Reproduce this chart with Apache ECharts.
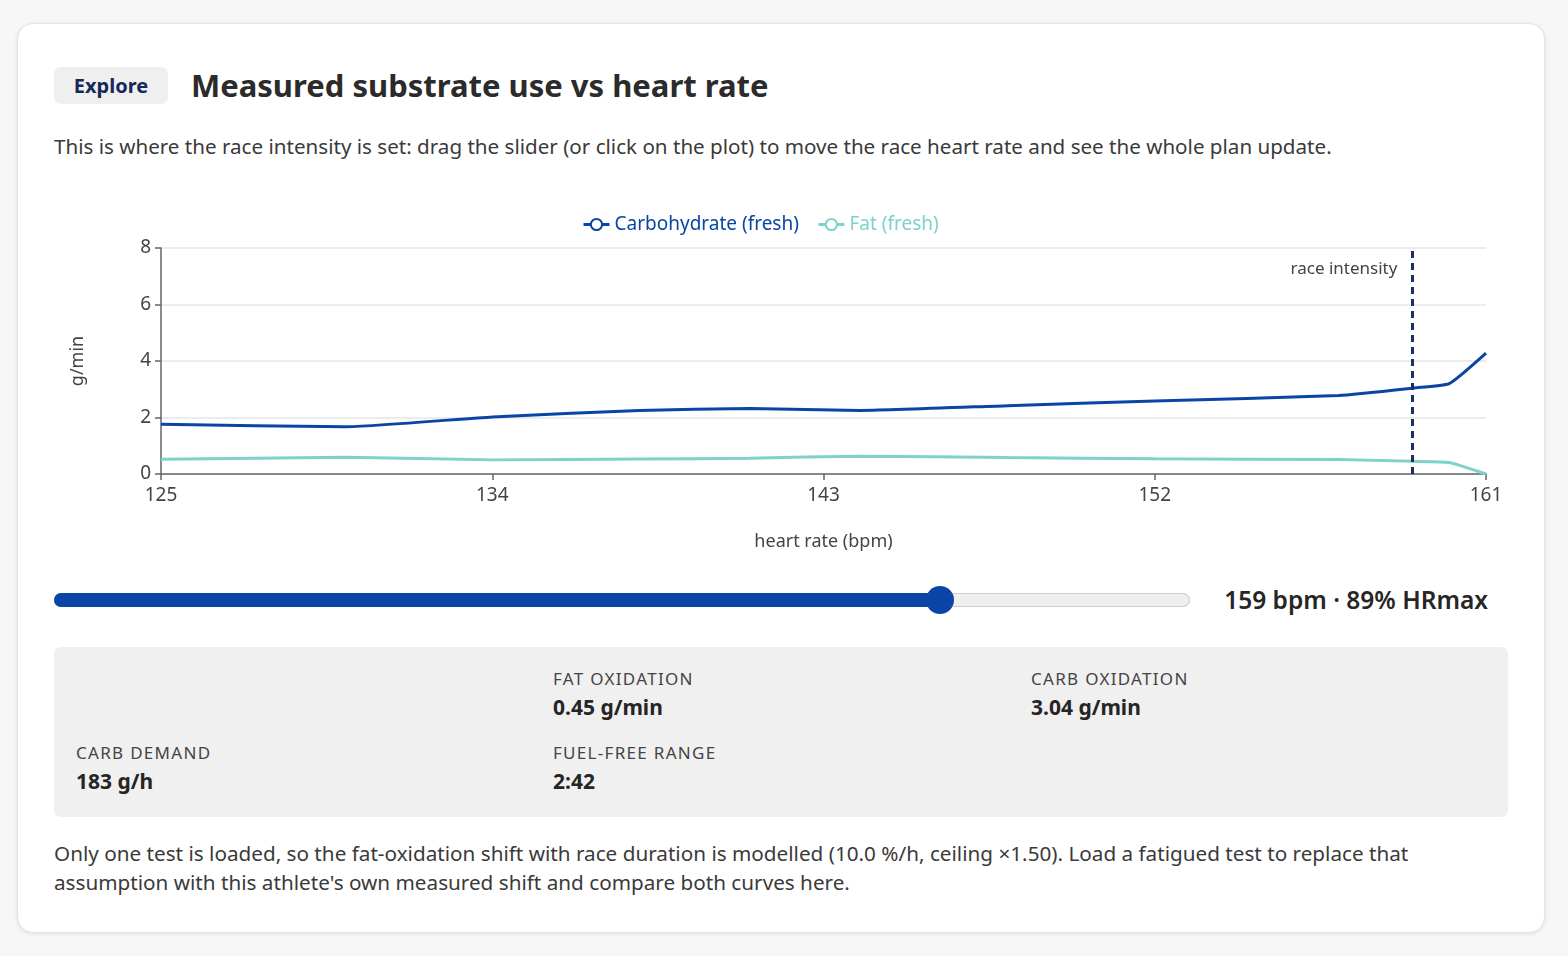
<!DOCTYPE html>
<html>
<head>
<meta charset="utf-8">
<script src="https://cdn.jsdelivr.net/npm/echarts@6/dist/echarts.min.js"></script>
<style>
  html, body { margin: 0; padding: 0; background: #f7f7f7; }
  body { width: 1568px; height: 956px; position: relative; font-family: "Noto Sans", Roboto, sans-serif; color: #333; }
  .card { position: absolute; left: 17px; top: 23px; width: 1526px; height: 908px; background: #fff;
          border: 1px solid #e4e4e4; border-radius: 16px; box-shadow: 0 1px 4px rgba(0,0,0,0.10); }
  .abs { position: absolute; }
  .badge { left: 36px; top: 43px; width: 114px; height: 37px; line-height: 37px; text-align: center;
           background: #efefef; border-radius: 7px; color: #16275a; font-weight: 700; font-size: 20px; }
  .title { left: 173px; top: 40px; height: 42px; line-height: 42px; font-size: 31px; font-weight: 700; color: #2b2b2b; }
  .sub { left: 36px; top: 108px; font-size: 20.6px; line-height: 28px; color: #3a3a3a; white-space: nowrap; }
  #chart { left: 36px; top: 171px; width: 1454px; height: 370px; }
  .track { left: 36px; top: 569px; width: 1136px; height: 14px; border-radius: 8px; background: #efefef;
           box-shadow: inset 0 0 0 1px #cfcfcf; }
  .fill { left: 0; top: 0; height: 14px; border-radius: 8px; background: #0a45a6; }
  .thumb { top: -7px; width: 28px; height: 28px; border-radius: 50%; background: #0a45a6; margin-left: -14px; }
  .hrtext { right: 56px; top: 559px; font-size: 24.5px; font-weight: 600; color: #262626; line-height: 34px; }
  .stats { left: 36px; top: 623px; width: 1454px; height: 170px; background: #f0f0f0; border-radius: 7px; }
  .stat { position: absolute; width: 455px; }
  .stat .lab { font-size: 17px; letter-spacing: 1.3px; color: #444; line-height: 22px; }
  .stat .val { font-size: 21px; font-weight: 700; color: #252525; line-height: 30px; margin-top: 2px; }
  .foot { left: 36px; top: 815px; font-size: 20.7px; line-height: 29px; color: #3a3a3a; white-space: nowrap; }
</style>
</head>
<body>
<div class="card">
  <div class="abs badge">Explore</div>
  <div class="abs title">Measured substrate use vs heart rate</div>
  <div class="abs sub">This is where the race intensity is set: drag the slider (or click on the plot) to move the race heart rate and see the whole plan update.</div>
  <div class="abs" id="chart"></div>
  <div class="abs track">
    <div class="abs fill" id="fill"></div>
    <div class="abs thumb" id="thumb"></div>
  </div>
  <div class="abs hrtext" id="hrtext"></div>
  <div class="abs stats">
    <div class="stat" style="left:499px; top:21px"><div class="lab">FAT OXIDATION</div><div class="val">0.45 g/min</div></div>
    <div class="stat" style="left:977px; top:21px"><div class="lab">CARB OXIDATION</div><div class="val">3.04 g/min</div></div>
    <div class="stat" style="left:22px; top:95px"><div class="lab">CARB DEMAND</div><div class="val">183 g/h</div></div>
    <div class="stat" style="left:499px; top:95px"><div class="lab">FUEL-FREE RANGE</div><div class="val">2:42</div></div>
  </div>
  <div class="abs foot">Only one test is loaded, so the fat-oxidation shift with race duration is modelled (10.0 %/h, ceiling ×1.50). Load a fatigued test to replace that<br>assumption with this athlete's own measured shift and compare both curves here.</div>
</div>
<script>
// heart rate (bpm) and measured oxidation rates (g/min)
var heartRate = [125, 130, 134, 138, 141, 144, 148, 152, 157, 159, 160, 161];
var carbFresh = [1.76, 1.67, 2.02, 2.25, 2.32, 2.25, 2.42, 2.58, 2.78, 3.04, 3.20, 4.28];
var fatFresh  = [0.52, 0.59, 0.50, 0.53, 0.56, 0.63, 0.58, 0.54, 0.51, 0.45, 0.41, 0.00];
var xTicks = [125, 134, 143, 152, 161];
var raceHR = 159;
var hrMax = 179;
var sliderMin = 120, sliderMax = 170;

var carbColor = '#0a45a6';
var fatColor = '#7fd2c9';

// slider
var pct = (raceHR - sliderMin) / (sliderMax - sliderMin) * 100;
document.getElementById('fill').style.width = pct + '%';
document.getElementById('thumb').style.left = pct + '%';
document.getElementById('hrtext').textContent = raceHR + ' bpm · ' + Math.round(raceHR / hrMax * 100) + '% HRmax';

function pairs(ys) {
    return heartRate.map(function (x, i) { return [x, ys[i]]; });
}

var myChart = echarts.init(document.getElementById('chart'));
var font = '"Noto Sans", Roboto, sans-serif';
var option = {
    textStyle: { fontFamily: font },
    animation: false,
    legend: {
        top: 15,
        left: 523,
        itemWidth: 26,
        itemHeight: 14,
        itemGap: 18,
        itemStyle: { borderWidth: 3 },
        lineStyle: { width: 3 },
        textStyle: { fontSize: 19, fontFamily: font },
        data: [
            { name: 'Carbohydrate (fresh)', textStyle: { color: carbColor } },
            { name: 'Fat (fresh)', textStyle: { color: fatColor } }
        ]
    },
    grid: { left: 107, right: 22, top: 53, bottom: 91 },
    xAxis: {
        type: 'value',
        min: 125,
        max: 161,
        name: 'heart rate (bpm)',
        nameLocation: 'middle',
        nameGap: 59,
        nameTextStyle: { fontSize: 18, color: '#444' },
        axisLine: { lineStyle: { color: '#666', width: 1.5 } },
        axisTick: { show: true, length: 6, lineStyle: { color: '#666', width: 1.5 }, customValues: xTicks },
        axisLabel: { fontSize: 19, color: '#444', margin: 12, customValues: xTicks },
        splitLine: { show: false }
    },
    yAxis: {
        type: 'value',
        min: 0,
        max: 8,
        interval: 2,
        name: 'g/min',
        nameLocation: 'middle',
        nameGap: 74,
        nameTextStyle: { fontSize: 18, color: '#444' },
        axisLine: { show: true, lineStyle: { color: '#666', width: 1.5 } },
        axisTick: { show: true, length: 6, lineStyle: { color: '#666', width: 1.5 } },
        axisLabel: { fontSize: 19, color: '#444', margin: 10 },
        splitLine: { lineStyle: { color: '#e6e6e6', width: 1.5 } }
    },
    series: [
        {
            name: 'Carbohydrate (fresh)',
            type: 'line',
            data: pairs(carbFresh),
            smooth: 0.15,
            showSymbol: false,
            symbol: 'emptyCircle',
            color: carbColor,
            lineStyle: { width: 3 },
            markLine: {
                silent: true,
                symbol: 'none',
                label: { show: false },
                lineStyle: { color: '#1d2f62', width: 3, type: [7, 5] },
                data: [{ xAxis: raceHR }]
            },
            markPoint: {
                silent: true,
                symbol: 'circle',
                symbolSize: 2,
                itemStyle: { color: 'rgba(0,0,0,0)' },
                label: {
                    show: true,
                    formatter: 'race intensity',
                    position: 'left',
                    distance: 14,
                    offset: [0, 21],
                    fontSize: 17,
                    color: '#444'
                },
                data: [{ coord: [raceHR, 8] }]
            }
        },
        {
            name: 'Fat (fresh)',
            type: 'line',
            data: pairs(fatFresh),
            smooth: 0.15,
            showSymbol: false,
            symbol: 'emptyCircle',
            color: fatColor,
            lineStyle: { width: 3 }
        }
    ]
};
myChart.setOption(option, true);
</script>
</body>
</html>
